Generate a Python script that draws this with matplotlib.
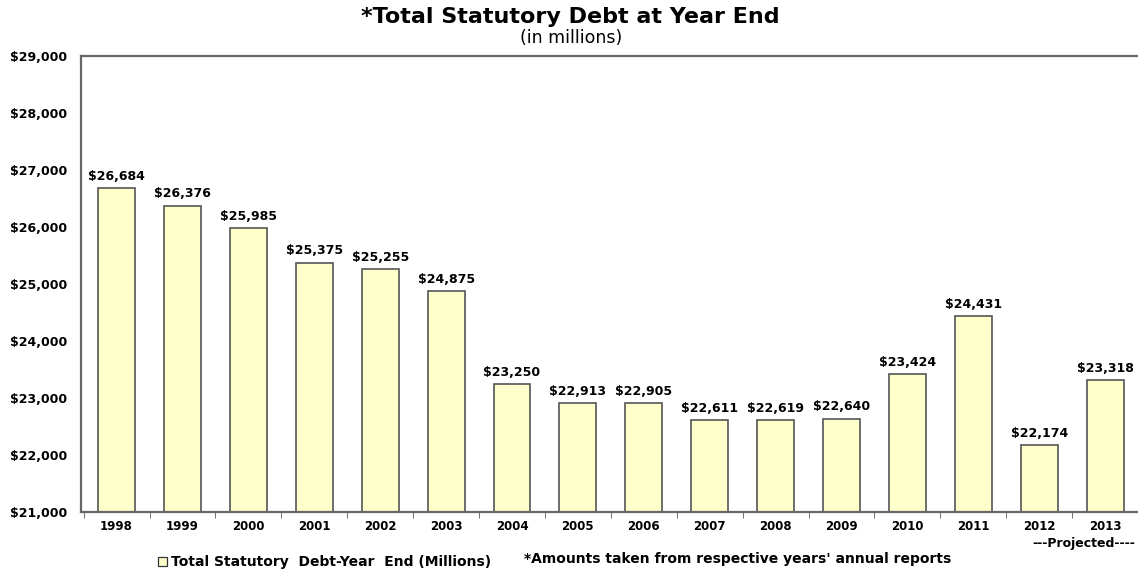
import matplotlib
matplotlib.use("Agg")
import matplotlib.pyplot as plt
from matplotlib.patches import Rectangle

years = ["1998", "1999", "2000", "2001", "2002", "2003", "2004", "2005",
         "2006", "2007", "2008", "2009", "2010", "2011", "2012", "2013"]
debt = [26684, 26376, 25985, 25375, 25255, 24875, 23250, 22913,
        22905, 22611, 22619, 22640, 23424, 24431, 22174, 23318]
yticks = [21000, 22000, 23000, 24000, 25000, 26000, 27000, 28000, 29000]

plt.rcParams['font.family'] = ['DejaVu Sans']

fig = plt.figure(figsize=(11.38, 5.69), dpi=100)
ax = fig.add_axes([81/1138, 1-512/569, (1138-81)/1138, (512-56)/569])

x = list(range(len(years)))
bars = ax.bar(x, [d - 21000 for d in debt], bottom=21000, width=0.56,
              color='#FFFFCC', edgecolor='#555555', linewidth=1.2)
for xi, d in zip(x, debt):
    ax.text(xi, d + 90, f"${d:,}", ha='center', va='bottom',
            fontsize=9, fontweight='bold')

ax.set_ylim(21000, 29000)
ax.set_xlim(-0.54, 15.39)
ax.set_yticks(yticks)
ax.set_yticklabels([f"${v:,}" for v in yticks], fontsize=9, fontweight='bold')
ax.set_xticks(x)
ax.set_xticklabels(years, fontsize=8.5, fontweight='bold')
ax.tick_params(axis='x', which='major', length=0, pad=6)
ax.set_xticks([i + 0.5 for i in range(-1, 16)], minor=True)
ax.tick_params(axis='x', which='minor', length=4, color='#555555')
ax.tick_params(axis='y', length=0, pad=10)
ax.spines['right'].set_visible(False)
for s in ['top', 'left', 'bottom']:
    ax.spines[s].set_color('#666666')
    ax.spines[s].set_linewidth(1.6)

fig.text(570/1138, 1-17/569, "*Total Statutory Debt at Year End", ha='center',
         va='center', fontsize=16, fontweight='bold')
fig.text(571/1138, 1-38/569, "(in millions)", ha='center', va='center', fontsize=12.5)

# legend
fig.patches.append(Rectangle((158/1138, 1-566/569), 9/1138, 9/569,
                             transform=fig.transFigure, facecolor='#FFFFCC',
                             edgecolor='#333333', linewidth=0.9))
fig.text(171/1138, 1-562/569, "Total Statutory  Debt-Year  End (Millions)",
         ha='left', va='center', fontsize=10, fontweight='bold')
fig.text(524/1138, 1-559/569, "*Amounts taken from respective years' annual reports",
         ha='left', va='center', fontsize=10, fontweight='bold')
fig.text(1135/1138, 1-543/569, "---Projected----", ha='right', va='center',
         fontsize=9, fontweight='bold')

fig.savefig("out.png", dpi=100)
